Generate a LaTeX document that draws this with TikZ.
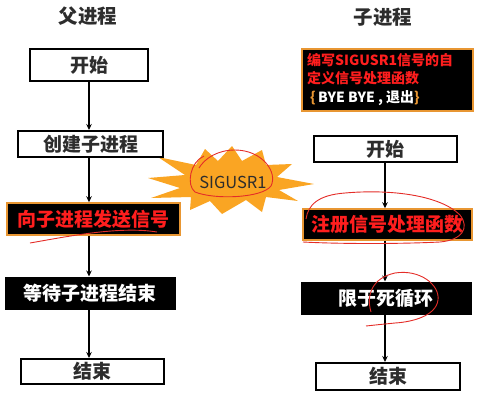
\documentclass[tikz,border=0pt]{standalone}
\usepackage{fontspec}
\setmainfont{Noto Sans CJK SC}
\usetikzlibrary{arrows.meta}
\definecolor{starorange}{RGB}{250,165,35}
\definecolor{boxorange}{RGB}{232,150,50}
\definecolor{redtxt}{RGB}{255,30,30}
\definecolor{scrib}{RGB}{228,45,40}
\definecolor{titlegray}{RGB}{45,45,45}
\begin{document}
\begin{tikzpicture}[x=1pt,y=-1pt,
  whitebox/.style={draw=black, line width=2pt, fill=white, inner sep=0pt,
    font=\fontsize{19}{20}\selectfont\bfseries, text=titlegray},
  redbox/.style={draw=boxorange, line width=1.5pt, fill=black, inner sep=0pt,
    font=\fontsize{19}{20}\selectfont\bfseries, text=redtxt},
  blackbox/.style={draw=black, line width=1pt, fill=black, inner sep=0pt,
    font=\fontsize{19}{20}\selectfont\bfseries, text=white},
  flow/.style={-{Stealth[length=6pt,width=5.5pt]}, line width=1.4pt, black},
  scribble/.style={draw=scrib, line width=0.9pt},
  titletext/.style={font=\fontsize{19.5}{21}\selectfont\bfseries, text=titlegray}]
\useasboundingbox (0,0) rectangle (482,402);

% titles
\node[titletext] (tL) at (88,16) {父进程};
\node[titletext] (tR) at (383,17) {子进程};

% star burst
\fill[starorange] (148,178) -- (185,175) -- (158,157) -- (196,165) -- (205,149)
  -- (218,161) -- (232,146) -- (242,161) -- (262,150) -- (266,165) -- (292,164)
  -- (277,177) -- (314,184) -- (279,190) -- (298,201) -- (266,197) -- (262,212)
  -- (246,200) -- (222,214) -- (210,201) -- (190,210) -- (191,197) -- (151,198)
  -- (180,188) -- cycle;
\node[font=\fontsize{16.5}{18}\selectfont, text=titlegray] (sig) at (233,182) {SIGUSR1};

% anchor columns
\coordinate (xL) at (89,0);
\coordinate (xR) at (385,0);

% left column
\node[whitebox, minimum width=118pt, minimum height=32pt] (startL) at (89,65) {开始};
\node[whitebox, minimum width=145pt, minimum height=26pt] (createL) at (90.5,144) {创建子进程};
\node[redbox, minimum width=173pt, minimum height=32pt] (sendL) at (93.5,219) {向子进程发送信号};
\node[blackbox, minimum width=170pt, minimum height=32pt] (waitL) at (90,293) {等待子进程结束};
\node[whitebox, minimum width=143pt, minimum height=25pt] (endL) at (92.5,371.5) {结束};

% right column
\node[draw=boxorange, line width=1.5pt, fill=black, minimum width=171pt, minimum height=62pt,
  inner sep=0pt] (funcR) at (387.5,80) {};
\node[anchor=north west, inner sep=0pt, align=left,
  font=\fontsize{14}{18.5}\selectfont\bfseries, text=redtxt] (funcT) at (307,53)
  {编写SIGUSR1信号的自\\定义信号处理函数\\\hspace*{3pt}{\color{boxorange}\{}\,{\color{white}BYE BYE , 退出}{\color{boxorange}\}}};
\node[whitebox, minimum width=143pt, minimum height=26pt] (startR) at (385.5,149) {开始};
\node[redbox, minimum width=169pt, minimum height=31pt] (regR) at (387.5,224.5) {注册信号处理函数};
\node[blackbox, minimum width=170pt, minimum height=32pt] (loopR) at (386,298) {限于死循环};
\node[whitebox, minimum width=144pt, minimum height=27pt] (endR) at (388,376.5) {结束};

% connectors
\draw[flow] (startL.south -| xL) -- (createL.north -| xL);
\draw[flow] (createL.south -| xL) -- (sendL.north -| xL);
\draw[flow] (sendL.south -| xL) -- (waitL.north -| xL);
\draw[flow] (waitL.south -| xL) -- (endL.north -| xL);
\draw[flow] (startR.south -| xR) -- (regR.north -| xR);
\draw[flow] (regR.south -| xR) -- (loopR.north -| xR);
\draw[flow] (loopR.south -| xR) -- (endR.north -| xR);

% hand-drawn red annotations
\draw[scribble] (204,156) .. controls (190,162) and (186,185) .. (195,192)
  .. controls (215,200) and (262,198) .. (271,186)
  .. controls (278,172) and (262,150) .. (235,150)
  .. controls (218,150) and (205,158) .. (199,168);
\draw[scribble] (30,243) .. controls (70,236) and (120,226) .. (157,232);
\draw[scribble] (306,219) .. controls (308,205) and (318,195) .. (345,193)
  .. controls (390,189) and (440,195) .. (460,215)
  .. controls (470,228) and (462,240) .. (440,242)
  .. controls (400,244) and (340,244) .. (303,242);
\draw[scribble] (371,312) .. controls (366,295) and (372,278) .. (395,273)
  .. controls (420,269) and (440,285) .. (438,300)
  .. controls (436,316) and (412,322) .. (395,323)
  .. controls (385,324) and (375,325) .. (366,326);
\end{tikzpicture}
\end{document}
